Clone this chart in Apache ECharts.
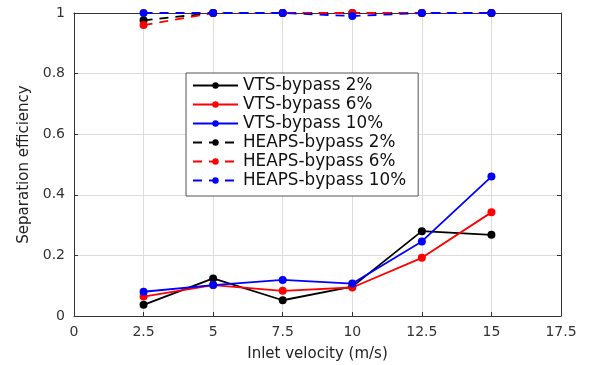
<!DOCTYPE html>
<html><head><meta charset="utf-8">
<script src="https://cdn.jsdelivr.net/npm/echarts@6/dist/echarts.min.js"></script>
<style>html,body{margin:0;padding:0;background:#fff}#c{width:606px;height:365px}</style>
</head><body><div id="c"></div>
<script>
const xValues = [2.5, 5, 7.5, 10, 12.5, 15];
const vts2 = [0.037, 0.124, 0.052, 0.097, 0.280, 0.268];
const vts6 = [0.064, 0.102, 0.083, 0.094, 0.192, 0.342];
const vts10 = [0.080, 0.102, 0.119, 0.107, 0.246, 0.460];
const heaps2 = [0.976, 1, 1, 1, 1, 1];
const heaps6 = [0.960, 1, 1, 1, 1, 1];
const heaps10 = [1, 1, 1, 0.990, 1, 1];
const seriesNames = ['VTS-bypass 2%','VTS-bypass 6%','VTS-bypass 10%','HEAPS-bypass 2%','HEAPS-bypass 6%','HEAPS-bypass 10%'];

function mk(name, vals, color, dashed){
  return {
    name, type:'line', data: xValues.map((x,i)=>[x, vals[i]]),
    symbol:'circle', symbolSize:8, clip:false,
    itemStyle:{color},
    lineStyle:{color, width:1.8, type: dashed ? [9,7] : 'solid'},
    z: dashed ? 3 : 2
  };
}
const chart = echarts.init(document.getElementById('c'));
const FONT = 'DejaVu Sans';
const axisLabel = {color:'#333', fontSize:14, fontFamily:FONT};
const lineCol = {color:'#333', width:1};
chart.setOption({
  animation:false,
  grid:{left:74, right:45, top:13, bottom:49, containLabel:false, outerBoundsMode:'none'},
  legend:{
    orient:'vertical', left:186, top:73,
    backgroundColor:'#fff', borderColor:'#555', borderWidth:1,
    padding:[3,12,6,6], itemGap:0, itemWidth:45, itemHeight:8,
    textStyle:{fontSize:16.8, fontFamily:FONT, color:'#111', lineHeight:19},
    data: seriesNames
  },
  xAxis:[{
    type:'value', min:0, max:17.5, interval:2.5,
    name:'Inlet velocity (m/s)', nameLocation:'middle', nameGap:31,
    nameTextStyle:{fontSize:15, fontFamily:FONT, color:'#222'},
    axisLine:{onZero:false, lineStyle:lineCol},
    axisTick:{inside:true, length:4, lineStyle:{color:'#333'}},
    axisLabel:Object.assign({margin:9}, axisLabel),
    splitLine:{show:true, lineStyle:{color:'#ddd', width:1}}
  },{
    type:'value', min:0, max:17.5, interval:2.5, position:'top',
    axisLine:{onZero:false, lineStyle:lineCol},
    axisTick:{inside:true, length:4, lineStyle:{color:'#333'}},
    axisLabel:{show:false}, splitLine:{show:false}
  }],
  yAxis:[{
    type:'value', min:0, max:1, interval:0.2,
    name:'Separation efficiency', nameLocation:'middle', nameGap:42,
    nameTextStyle:{fontSize:15, fontFamily:FONT, color:'#222'},
    axisLine:{onZero:false, lineStyle:lineCol},
    axisTick:{inside:true, length:4, lineStyle:{color:'#333'}},
    axisLabel:Object.assign({margin:9}, axisLabel),
    splitLine:{show:true, lineStyle:{color:'#ddd', width:1}}
  },{
    type:'value', min:0, max:1, interval:0.2, position:'right',
    axisLine:{onZero:false, lineStyle:lineCol},
    axisTick:{inside:true, length:4, lineStyle:{color:'#333'}},
    axisLabel:{show:false}, splitLine:{show:false}
  }],
  series:[
    mk(seriesNames[0], vts2, '#000', false),
    mk(seriesNames[1], vts6, '#ff0000', false),
    mk(seriesNames[2], vts10, '#0000ff', false),
    mk(seriesNames[3], heaps2, '#000', true),
    mk(seriesNames[4], heaps6, '#ff0000', true),
    mk(seriesNames[5], heaps10, '#0000ff', true)
  ]
});
</script></body></html>
